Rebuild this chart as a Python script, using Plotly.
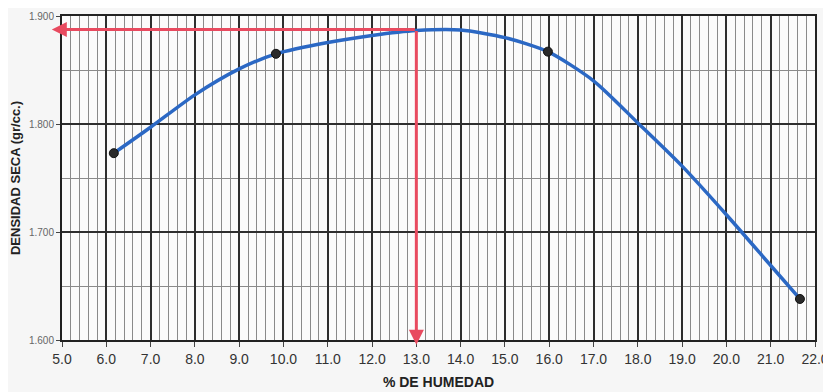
import plotly.graph_objects as go

# Measured points (humidity %, dry density)
point_x = [6.17, 9.83, 15.97, 21.66]
point_y = [1.773, 1.865, 1.867, 1.638]

# Fitted compaction curve
curve_x = [6.17, 7.0, 8.0, 9.0, 9.83, 11.0, 12.0, 13.0, 14.0, 15.0, 15.97,
           17.0, 18.0, 19.0, 20.0, 21.0, 21.66]
curve_y = [1.773, 1.797, 1.827, 1.851, 1.865, 1.8755, 1.882, 1.8865, 1.887, 1.880, 1.867,
           1.840, 1.801, 1.761, 1.716, 1.669, 1.638]

# Optimum values indicated by red arrows
opt_humidity = 13.0
max_density = 1.8875

x_ticks = [5.0 + i for i in range(18)]
y_ticks = [1.600, 1.700, 1.800, 1.900]

fig = go.Figure()
fig.add_trace(go.Scatter(x=curve_x, y=curve_y, mode="lines",
                         line=dict(color="#2b68c4", width=3.5, shape="spline", smoothing=0.7),
                         hoverinfo="skip", showlegend=False))
fig.add_trace(go.Scatter(x=point_x, y=point_y, mode="markers",
                         marker=dict(color="#2a2a2a", size=9, line=dict(color="#111", width=1)),
                         showlegend=False))

red = "#e84a5f"
# Horizontal arrow towards the y axis
fig.add_annotation(x=4.77, y=max_density, ax=opt_humidity, ay=max_density,
                   xref="x", yref="y", axref="x", ayref="y", text="",
                   showarrow=True, arrowhead=2, arrowsize=1, arrowwidth=3, arrowcolor=red,
                   standoff=0, startstandoff=0)
# Vertical arrow down to the x axis
fig.add_annotation(x=opt_humidity, y=1.5955, ax=opt_humidity, ay=max_density,
                   xref="x", yref="y", axref="x", ayref="y", text="",
                   showarrow=True, arrowhead=2, arrowsize=1, arrowwidth=3, arrowcolor=red,
                   standoff=0, startstandoff=0)

font = "Liberation Sans, Arial, sans-serif"
fig.update_layout(
    width=823, height=384,
    margin=dict(l=54, r=16, t=8, b=52),
    paper_bgcolor="#f6f6f6", plot_bgcolor="#fbfbfb",
    font=dict(family=font, color="#333"),
    xaxis=dict(range=[5.0, 22.0], tickvals=x_ticks, ticktext=[f"{v:.1f}" for v in x_ticks],
               tickfont=dict(size=14, color="#333"), automargin=False,
               showgrid=True, gridcolor="#2e2e2e", gridwidth=2,
               minor=dict(dtick=0.2, showgrid=True, gridcolor="#8a8a8a", gridwidth=1),
               showline=True, linecolor="#222", linewidth=2, mirror=True,
               ticks="outside", ticklen=5, tickcolor="#444", zeroline=False,
               title=dict(text="<b>% DE HUMEDAD</b>", font=dict(size=14, color="#222"), standoff=11)),
    yaxis=dict(range=[1.6, 1.9], tickvals=y_ticks, ticktext=[f"{v:.3f}" for v in y_ticks],
               tickfont=dict(size=10, color="#666"), automargin=False,
               showgrid=True, gridcolor="#2e2e2e", gridwidth=2,
               minor=dict(dtick=0.05, showgrid=True, gridcolor="#8a8a8a", gridwidth=1),
               showline=True, linecolor="#222", linewidth=2, mirror=True,
               ticks="outside", ticklen=4, tickcolor="#444", zeroline=False,
               title=dict(text="<b>DENSIDAD SECA (gr/cc.)</b>", font=dict(size=13, color="#222"), standoff=6)),
)

fig.write_html("out.html")
